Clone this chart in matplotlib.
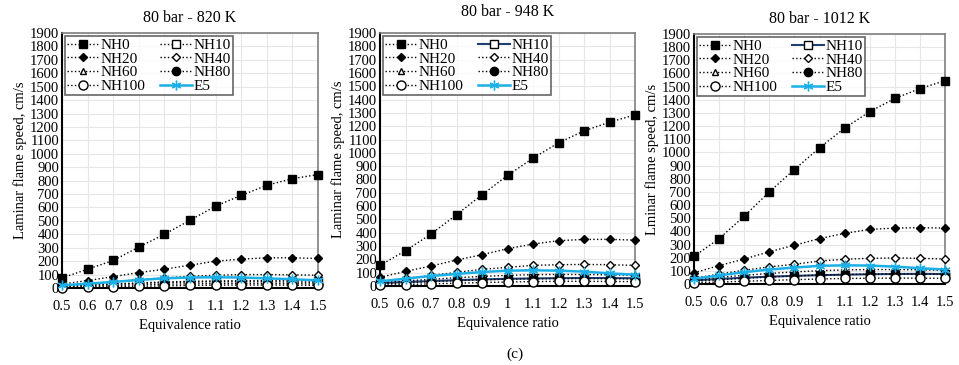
import matplotlib
matplotlib.use("Agg")
import matplotlib.pyplot as plt

plt.rcParams['font.family'] = ['Liberation Serif', 'DejaVu Serif']

phi = [0.5, 0.6, 0.7, 0.8, 0.9, 1.0, 1.1, 1.2, 1.3, 1.4, 1.5]
phi_labels = ["0.5", "0.6", "0.7", "0.8", "0.9", "1", "1.1", "1.2", "1.3", "1.4", "1.5"]
series_names = ["NH0", "NH10", "NH20", "NH40", "NH60", "NH80", "NH100", "E5"]

titles = ["80 bar - 820 K", "80 bar - 948 K", "80 bar - 1012 K"]
ylabels = ["Laminar flame speed, cm/s", "Laminar flame speed, cm/s", "Lminar flame speed, cm/s"]

# 820 K
nh0_820 = [75, 140, 205, 305, 400, 505, 610, 690, 765, 815, 845]
nh10_820 = [15, 22, 30, 38, 45, 50, 53, 55, 55, 54, 52]
nh20_820 = [30, 55, 85, 115, 140, 170, 200, 215, 225, 225, 220]
nh40_820 = [20, 32, 47, 62, 75, 87, 95, 100, 100, 98, 95]
nh60_820 = [12, 20, 27, 34, 40, 44, 46, 47, 46, 44, 42]
nh80_820 = [8, 13, 18, 24, 28, 31, 33, 34, 33, 32, 30]
nh100_820 = [3, 6, 9, 13, 16, 19, 21, 22, 22, 21, 20]
e5_820 = [20, 32, 45, 60, 72, 78, 80, 78, 72, 65, 57]

# 948 K
nh0_948 = [155, 265, 390, 535, 685, 830, 960, 1075, 1165, 1230, 1285]
nh10_948 = [22, 30, 37, 44, 50, 54, 57, 59, 60, 60, 58]
nh20_948 = [65, 110, 150, 195, 235, 280, 315, 340, 350, 350, 345]
nh40_948 = [35, 57, 80, 102, 125, 140, 155, 160, 162, 160, 155]
nh60_948 = [25, 38, 50, 62, 72, 80, 85, 87, 86, 84, 80]
nh80_948 = [15, 24, 32, 40, 46, 51, 54, 56, 56, 55, 53]
nh100_948 = [6, 11, 16, 21, 26, 30, 33, 35, 35, 34, 33]
e5_948 = [35, 55, 75, 90, 105, 115, 118, 115, 108, 95, 85]

# 1012 K
nh0_1012 = [210, 345, 515, 700, 870, 1035, 1185, 1310, 1410, 1485, 1545]
nh10_1012 = [28, 38, 48, 56, 62, 67, 71, 74, 76, 77, 76]
nh20_1012 = [85, 140, 190, 245, 295, 345, 385, 415, 425, 428, 425]
nh40_1012 = [45, 75, 105, 130, 150, 175, 188, 195, 198, 195, 190]
nh60_1012 = [32, 50, 66, 80, 92, 101, 107, 110, 110, 108, 104]
nh80_1012 = [20, 32, 43, 53, 61, 68, 72, 75, 76, 75, 73]
nh100_1012 = [8, 15, 21, 27, 33, 38, 42, 44, 45, 44, 43]
e5_1012 = [40, 65, 90, 110, 125, 138, 142, 140, 132, 120, 110]

panels = [
    [nh0_820, nh10_820, nh20_820, nh40_820, nh60_820, nh80_820, nh100_820, e5_820],
    [nh0_948, nh10_948, nh20_948, nh40_948, nh60_948, nh80_948, nh100_948, e5_948],
    [nh0_1012, nh10_1012, nh20_1012, nh40_1012, nh60_1012, nh80_1012, nh100_1012, e5_1012],
]

W, H = 959, 365
boxes = [(62, 318, 33, 288), (380, 635, 33, 286), (694, 945, 34, 284)]
title_pads = [8, 12, 8]

e5_color = "#1AAFE6"
nh10_solid = "#1F3F73"


def styles(panel_idx):
    nh10_ls = ":" if panel_idx == 0 else "-"
    nh10_col = "black" if panel_idx == 0 else nh10_solid
    nh10_lw = 1.0 if panel_idx == 0 else 1.5
    return [
        dict(ls=":", color="black", lw=1.0, marker="s", ms=6, mfc="black", mec="black"),
        dict(ls=nh10_ls, color=nh10_col, lw=nh10_lw, marker="s", ms=5.5, mfc="white", mec="black"),
        dict(ls=":", color="black", lw=1.0, marker="D", ms=4, mfc="black", mec="black"),
        dict(ls=":", color="black", lw=1.0, marker="D", ms=4, mfc="white", mec="black"),
        dict(ls=":", color="black", lw=1.0, marker="^", ms=5, mfc="white", mec="black"),
        dict(ls=":", color="black", lw=1.0, marker="o", ms=6, mfc="black", mec="black"),
        dict(ls=":", color="black", lw=1.0, marker="o", ms=6.5, mfc="white", mec="black"),
        dict(ls="-", color=e5_color, lw=1.8, marker=(6, 2, 0), ms=7, mec=e5_color),
    ]


# legend is filled row by row in the original: reorder for matplotlib's column filling
legend_order = [0, 2, 4, 6, 1, 3, 5, 7]

fig = plt.figure(figsize=(9.59, 3.65), dpi=100)

for i, (data, (l, r, t, b)) in enumerate(zip(panels, boxes)):
    ax = fig.add_axes([l / W, 1 - b / H, (r - l) / W, (b - t) / H])
    st = styles(i)
    lines = []
    for name, vals, s in zip(series_names, data, st):
        ln, = ax.plot(phi, vals, label=name, clip_on=False, zorder=3, **s)
        lines.append(ln)
    ax.set_xlim(0.5, 1.5)
    ax.set_ylim(0, 1900)
    ax.set_xticks(phi)
    ax.set_xticklabels(phi_labels)
    ax.set_yticks(range(0, 2000, 100))
    ax.grid(True, color="#e6e6e6", lw=0.8)
    ax.set_axisbelow(True)
    ax.tick_params(length=0, labelsize=10.5, pad=9)
    ax.tick_params(axis="y", pad=2)
    for sp in ["left", "bottom"]:
        ax.spines[sp].set_color("black")
        ax.spines[sp].set_linewidth(1.5)
    for sp in ["top", "right"]:
        ax.spines[sp].set_color("#7f7f7f")
        ax.spines[sp].set_linewidth(1.2)
    ax.set_title(titles[i], fontsize=11.5, pad=title_pads[i])
    ax.set_xlabel("Equivalence ratio", fontsize=10.5, labelpad=4)
    ax.set_ylabel(ylabels[i], fontsize=10.5, labelpad=2)
    hs = [lines[k] for k in legend_order]
    leg = ax.legend(hs, [h.get_label() for h in hs], ncol=2, loc="upper left", fontsize=11,
                    frameon=True, fancybox=False, edgecolor="#404040", borderpad=0.15,
                    labelspacing=0.0, handlelength=2.1, handletextpad=0.1, columnspacing=0.9,
                    borderaxespad=0.2)
    leg.get_frame().set_linewidth(1.2)

fig.text(515 / W, 1 - 354 / H, "(c)", ha="center", va="center", fontsize=11)

fig.savefig("out.png", dpi=100)
